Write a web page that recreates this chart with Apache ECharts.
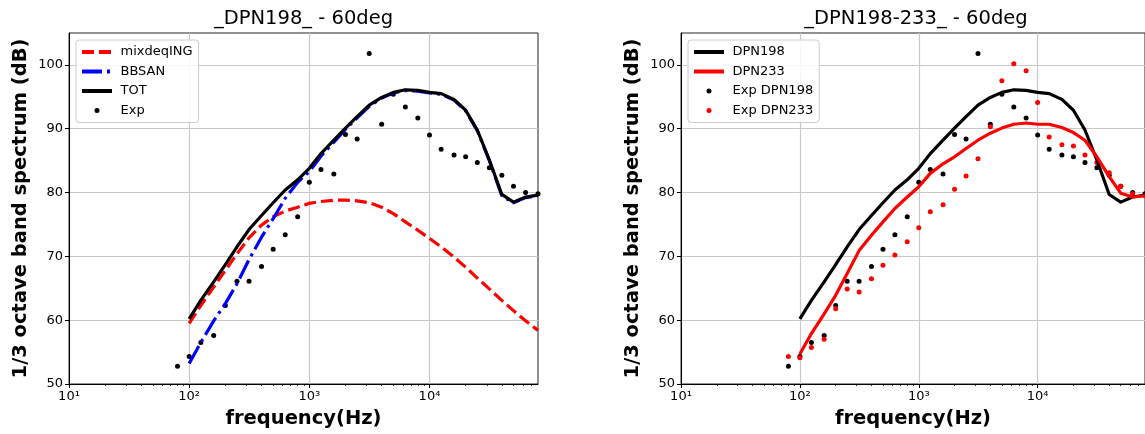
<!DOCTYPE html>
<html>
<head>
<meta charset="utf-8">
<script src="https://cdn.jsdelivr.net/npm/echarts@6.0.0/dist/echarts.min.js"></script>
<style>
  html, body { margin: 0; padding: 0; background: #fff; }
  #chart { width: 1145px; height: 434px; }
</style>
</head>
<body>
<div id="chart"></div>
<script>
// ---------------- data ----------------
const expFreqs = [80, 100, 125, 160, 200, 250, 315, 400, 500, 630, 800, 1000, 1250, 1600, 2000, 2500, 3150, 4000, 5000, 6300, 8000, 10000, 12500, 16000, 20000, 25000, 31500, 40000, 50000, 63000, 80000];
const modelFreqs = [100, 125, 160, 200, 250, 315, 400, 500, 630, 800, 1000, 1250, 1600, 2000, 2500, 3150, 4000, 5000, 6300, 8000, 10000, 12500, 16000, 20000, 25000, 31500, 40000, 50000, 63000, 80000];

const mixdeqING = [59.5, 62.3, 65.2, 67.8, 70.4, 72.9, 74.9, 76.2, 77.1, 77.7, 78.3, 78.6, 78.8, 78.8, 78.7, 78.4, 77.7, 76.7, 75.4, 74.1, 72.8, 71.5, 69.9, 68.3, 66.6, 64.9, 63.1, 61.5, 59.9, 58.4];
const bbsan = [53.2, 56.5, 59.9, 62.6, 65.7, 69.5, 73.0, 75.9, 79.1, 81.6, 83.3, 85.7, 87.9, 89.9, 91.7, 93.5, 94.8, 95.6, 96.0, 95.9, 95.6, 95.4, 94.5, 92.8, 89.7, 85.0, 79.5, 78.4, 79.2, 79.5];
const tot = [60.2, 63.1, 66.0, 68.7, 71.5, 74.2, 76.4, 78.4, 80.4, 82.0, 83.8, 86.1, 88.2, 90.1, 91.9, 93.7, 94.9, 95.7, 96.1, 96.0, 95.7, 95.5, 94.6, 92.9, 89.8, 85.1, 79.7, 78.5, 79.3, 79.6];
const dpn233 = [54.7, 57.9, 61.0, 63.9, 67.3, 70.9, 73.3, 75.4, 77.5, 79.3, 80.9, 83.0, 84.5, 85.6, 86.9, 88.2, 89.3, 90.1, 90.7, 90.9, 90.7, 90.7, 90.2, 89.4, 88.2, 85.6, 82.5, 79.9, 79.3, 79.5];

const expDPN198 = [52.8, 54.3, 56.5, 57.6, 62.3, 66.1, 66.1, 68.4, 71.1, 73.4, 76.2, 81.6, 83.6, 82.9, 89.1, 88.4, 101.8, 90.7, 95.4, 93.4, 91.7, 89.0, 86.8, 85.9, 85.6, 84.7, 83.9, 82.7, 81.0, 80.0, 79.8];
const expDPN233 = [54.3, 54.1, 55.7, 57.0, 61.8, 64.9, 64.4, 66.5, 68.6, 70.2, 72.3, 74.5, 77.0, 78.1, 80.5, 82.6, 85.3, 90.3, 97.5, 100.2, 99.1, 94.1, 88.7, 87.5, 87.3, 85.9, 84.7, 83.1, 81.0, 79.8, 79.5];

const majorXTicks = [10, 100, 1000, 10000];
const minorXTicks = [20, 30, 40, 50, 60, 70, 80, 90, 200, 300, 400, 500, 600, 700, 800, 900, 2000, 3000, 4000, 5000, 6000, 7000, 8000, 9000, 20000, 30000, 40000, 50000, 60000, 70000];
const majorXLabels = ['10\u00B9', '10\u00B2', '10\u00B3', '10\u2074'];
const yTicks = [50, 60, 70, 80, 90, 100];

const titles = ['_DPN198_ - 60deg', '_DPN198-233_ - 60deg'];
const xName = 'frequency(Hz)';
const yName = '1/3 octave band spectrum (dB)';

// ---------------- helpers ----------------
const FONT = 'DejaVu Sans';
const zip = (xs, ys) => xs.map((x, i) => [x, ys[i]]);
const GRIDS = [
  { left: 69, top: 33, width: 469, height: 351 },
  { left: 681, top: 33, width: 470, height: 351 }
];

function xAxes(g) {
  return [
    {
      type: 'log', logBase: 10, gridIndex: g, min: 10, max: 80000,
      axisLine: { show: true, onZero: false, lineStyle: { color: '#000', width: 1 } },
      axisTick: { show: true, inside: false, length: 4, customValues: majorXTicks, lineStyle: { color: '#000', width: 1 } },
      axisLabel: {
        customValues: majorXTicks, margin: 6, fontSize: 13, color: '#000', fontFamily: FONT,
        formatter: v => majorXLabels[Math.round(Math.log10(v)) - 1] || ''
      },
      splitLine: { show: true, lineStyle: { color: '#c8c8c8', width: 1.2 } },
      name: xName, nameLocation: 'middle', nameGap: 25,
      nameTextStyle: { fontFamily: FONT, fontWeight: 'bold', fontSize: 19.5, color: '#000' }
    },
    {
      type: 'log', logBase: 10, gridIndex: g, min: 10, max: 80000, position: 'bottom',
      axisLine: { show: false },
      axisTick: { show: true, inside: false, length: 2, customValues: minorXTicks, lineStyle: { color: '#000', width: 0.8 } },
      axisLabel: { show: false },
      splitLine: { show: false }
    }
  ];
}
function yAxis(g) {
  return {
    type: 'value', gridIndex: g, min: 50, max: 105, interval: 10,
    axisLine: { show: true, onZero: false, lineStyle: { color: '#000', width: 1 } },
    axisTick: { show: true, inside: false, length: 4, customValues: yTicks, lineStyle: { color: '#000', width: 1 } },
    axisLabel: { customValues: yTicks, margin: 6, fontSize: 13, color: '#000', fontFamily: FONT },
    splitLine: { show: true, lineStyle: { color: '#c8c8c8', width: 1.2 } },
    name: yName, nameLocation: 'middle', nameGap: 38, nameRotate: 90,
    nameTextStyle: { fontFamily: FONT, fontWeight: 'bold', fontSize: 19.5, color: '#000' }
  };
}
function legend(g, items) {
  return {
    orient: 'vertical', left: GRIDS[g].left + 7, top: 40,
    itemWidth: 30, itemHeight: 5, itemGap: 3.5,
    padding: [4, 6, 4, 4],
    backgroundColor: 'rgba(255,255,255,0.85)', borderColor: '#cccccc', borderWidth: 1, borderRadius: 3,
    lineStyle: { width: 4 },
    textStyle: { fontFamily: FONT, fontSize: 13, color: '#000', lineHeight: 16, padding: [0, 0, 0, 3.5] },
    data: items.map(([name, isLine]) => isLine ? { name, itemStyle: { opacity: 0 } } : { name, icon: 'circle' })
  };
}
function lineSeries(name, xi, yi, xs, ys, color, width, dash) {
  return {
    name, type: 'line', xAxisIndex: xi, yAxisIndex: yi, data: zip(xs, ys),
    showSymbol: false, symbol: 'none', smooth: false, clip: true,
    lineStyle: { color, width, type: dash || 'solid', cap: 'butt', join: 'round' },
    itemStyle: { color }
  };
}
function dotSeries(name, xi, yi, xs, ys, color) {
  return {
    name, type: 'scatter', xAxisIndex: xi, yAxisIndex: yi, data: zip(xs, ys),
    symbol: 'circle', symbolSize: 5, itemStyle: { color, opacity: 1 }
  };
}

const chart = echarts.init(document.getElementById('chart'), null, { renderer: 'canvas' });
chart.setOption({
  animation: false,
  backgroundColor: '#fff',
  grid: GRIDS.map(g => Object.assign({ show: true, borderColor: '#222', borderWidth: 1, backgroundColor: 'transparent' }, g)),
  xAxis: [...xAxes(0), ...xAxes(1)],
  yAxis: [yAxis(0), yAxis(1)],
  legend: [
    legend(0, [['mixdeqING', true], ['BBSAN', true], ['TOT', true], ['Exp', false]]),
    legend(1, [['DPN198', true], ['DPN233', true], ['Exp DPN198', false], ['Exp DPN233', false]])
  ],
  graphic: [
    { type: 'text', x: GRIDS[0].left + GRIDS[0].width / 2, y: 19, style: { text: titles[0], fontFamily: FONT, fontSize: 19.5, fill: '#000', textAlign: 'center', textVerticalAlign: 'middle' } },
    { type: 'text', x: GRIDS[1].left + GRIDS[1].width / 2, y: 19, style: { text: titles[1], fontFamily: FONT, fontSize: 19.5, fill: '#000', textAlign: 'center', textVerticalAlign: 'middle' } }
  ],
  series: [
    lineSeries('mixdeqING', 0, 0, modelFreqs, mixdeqING, '#ff0000', 3.2, [12, 5]),
    lineSeries('BBSAN', 0, 0, modelFreqs, bbsan, '#0000ff', 3.2, [20, 5, 3, 5]),
    lineSeries('TOT', 0, 0, modelFreqs, tot, '#000000', 3.2),
    dotSeries('Exp', 0, 0, expFreqs, expDPN198, '#000000'),
    lineSeries('DPN198', 2, 1, modelFreqs, tot, '#000000', 3.2),
    lineSeries('DPN233', 2, 1, modelFreqs, dpn233, '#ff0000', 3.2),
    dotSeries('Exp DPN198', 2, 1, expFreqs, expDPN198, '#000000'),
    dotSeries('Exp DPN233', 2, 1, expFreqs, expDPN233, '#ff0000')
  ]
});
</script>
</body>
</html>
